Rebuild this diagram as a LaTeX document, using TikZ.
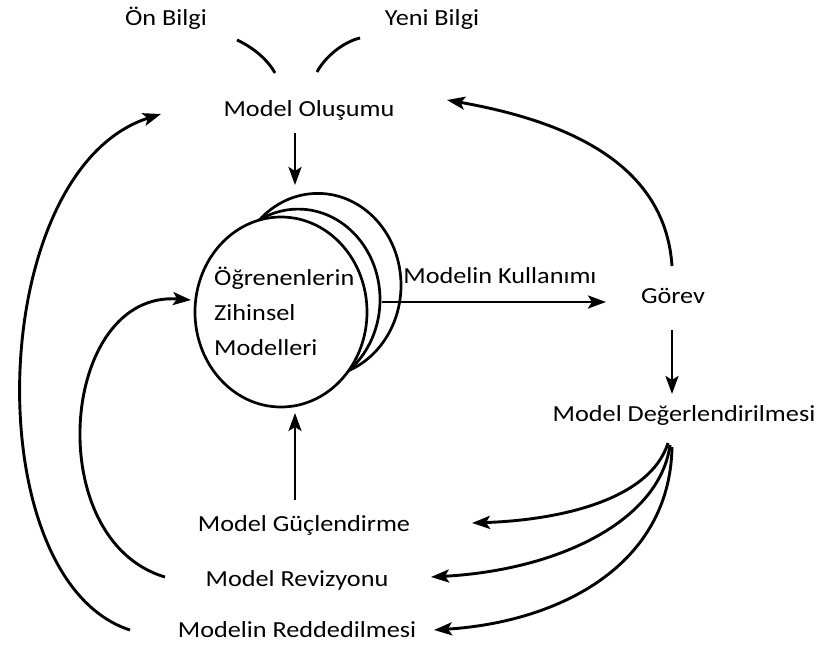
\documentclass[tikz,border=0pt]{standalone}
\usepackage{fontspec}
\setmainfont{Carlito}
\newfontfamily\lblfont[FakeStretch=1.14]{Carlito}
\usetikzlibrary{arrows.meta,shapes.geometric}
\begin{document}
\begin{tikzpicture}[x=1pt,y=-1pt,
  lbl/.style={font=\lblfont\fontsize{23}{35}\selectfont, inner sep=1pt},
  conn/.style={line width=2.9pt,-{Stealth[length=18pt,width=13pt,inset=4pt]}},
  plain/.style={line width=2.9pt},
  disc/.style={draw, line width=2.7pt, fill=white, ellipse, inner sep=0pt}]
\useasboundingbox (0,0) rectangle (823,645);

% stacked mental models, drawn back to front
\node[disc, minimum width=166.4pt, minimum height=183.8pt] (mindc) at (317.8,285.3) {};
\node[disc, minimum width=163.6pt, minimum height=180.8pt] (mindb) at (298.2,299.5) {};
\node[disc, minimum width=172pt,   minimum height=190pt]   (mind)  at (281,312) {};
\node[lbl, align=left, anchor=west] (mtxt) at (213,311) {Öğrenenlerin\\Zihinsel\\Modelleri};

% labels
\node[lbl] (on)    at (166,18)  {Ön Bilgi};
\node[lbl] (yeni)  at (432,19)  {Yeni Bilgi};
\node[lbl] (olus)  at (309,110) {Model Oluşumu};
\node[lbl] (kull)  at (500,276) {Modelin Kullanımı};
\node[lbl] (gorev) at (673,296) {Görev};
\node[lbl] (deger) at (684,415) {Model Değerlendirilmesi};
\node[lbl] (guc)   at (304,525) {Model Güçlendirme};
\node[lbl] (rev)   at (297,580) {Model Revizyonu};
\node[lbl] (red)   at (297,630) {Modelin Reddedilmesi};

% connector end points
\coordinate (onA)   at (237,40);
\coordinate (onB)   at (275,73);
\coordinate (yeA)   at (360,38);
\coordinate (yeB)   at (317,72);
\coordinate (olusS) at (295,133);
\coordinate (mindT) at (295,185);
\coordinate (mindR) at (382,302);
\coordinate (useE)  at (606,302);
\coordinate (gorN)  at (672,266);
\coordinate (olusR) at (447,100);
\coordinate (gorS)  at (672,330);
\coordinate (degN)  at (672,394);
\coordinate (degS1) at (668,443);
\coordinate (degS2) at (670,445);
\coordinate (degS3) at (672,447);
\coordinate (gucE)  at (472,523);
\coordinate (revE)  at (431,577);
\coordinate (redE)  at (434,630);
\coordinate (gucN)  at (295,500);
\coordinate (mindB) at (295,413);
\coordinate (revW)  at (165,577);
\coordinate (mindL) at (191,300);
\coordinate (redW)  at (130,630);
\coordinate (olusL) at (161,114);

% prior and new knowledge merging
\draw[plain] (onA) .. controls (250,46) and (266,57) .. (onB);
\draw[plain] (yeB) .. controls (325,57) and (343,42) .. (yeA);

\draw[conn] (olusS) -- (mindT);
\draw[conn] (mindR) -- (useE);
\draw[conn] (gorN) .. controls (665,160) and (560,120) .. (olusR);
\draw[conn] (gorS) -- (degN);

% evaluation outcomes
\draw[conn] (degS1) .. controls (650,500) and (560,520) .. (gucE);
\draw[conn] (degS2) .. controls (660,520) and (560,570) .. (revE);
\draw[conn] (degS3) .. controls (670,565) and (560,622) .. (redE);

\draw[conn] (gucN) -- (mindB);
\draw[conn] (revW) .. controls (40,540) and (60,290) .. (mindL);
\draw[conn] (redW) .. controls (-25,580) and (-15,170) .. (olusL);
\end{tikzpicture}
\end{document}
